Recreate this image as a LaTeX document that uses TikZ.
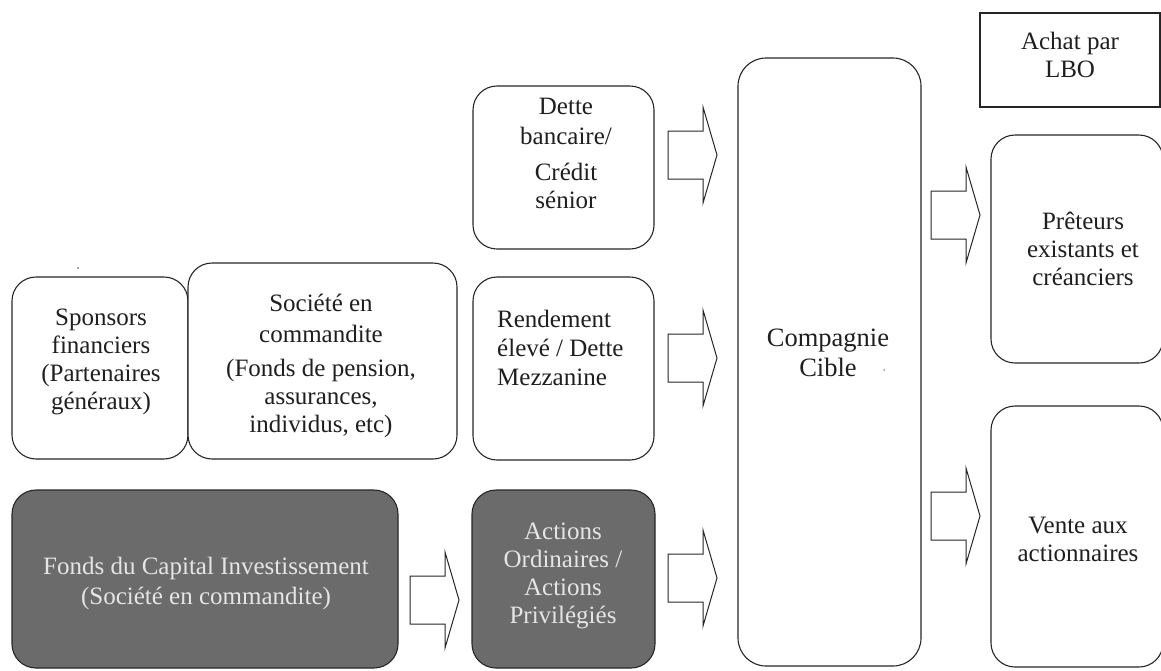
\documentclass[tikz,border=0pt]{standalone}
\usepackage{fontspec}
\setmainfont{Liberation Serif}
\begin{document}
\begin{tikzpicture}[x=1pt,y=-1pt,
  box/.style={draw=black!85, line width=1.1pt, rounded corners=24pt, fill=white, inner sep=0pt},
  darkbox/.style={box, fill=black!58},
  plainbox/.style={draw=black!85, line width=1.1pt, fill=white, inner sep=0pt},
  txt/.style={align=center, inner sep=0pt, font=\fontsize{25}{28}\selectfont, text=black!88},
  lighttxt/.style={txt, text=black!10},
  arrowline/.style={draw=black!85, line width=1pt, fill=white, line join=miter},
  blockarrow/.pic={\draw[arrowline] (0,-24) -- (35,-24) -- (35,-48) -- (49,0) -- (35,48) -- (35,24) -- (0,24) -- cycle;},
  speck/.style={circle, fill=black!70, inner sep=0pt, minimum size=1.8pt}
]
\useasboundingbox (0,0) rectangle (1161,670);

% frames
\node[plainbox, minimum width=180pt, minimum height=94pt] (lbo) at (1070,60) {};
\node[box, minimum width=181pt, minimum height=163pt] (dette) at (563.5,167.5) {};
\node[box, minimum width=176pt, minimum height=182pt] (sponsors) at (100,368) {};
\node[box, minimum width=269pt, minimum height=196pt] (societe) at (322.5,361) {};
\node[box, minimum width=181pt, minimum height=183pt] (rendement) at (563.5,368.5) {};
\node[darkbox, minimum width=386pt, minimum height=178pt] (fonds) at (205,579) {};
\node[darkbox, minimum width=183pt, minimum height=178pt] (actions) at (563.5,579) {};
\node[box, rounded corners=28pt, minimum width=183pt, minimum height=608pt] (cible) at (829.5,362) {};
\node[box, minimum width=172pt, minimum height=228pt] (preteurs) at (1077,249) {};
\node[box, minimum width=172pt, minimum height=261pt] (vente) at (1077,536.5) {};

% texts
\node[txt] (lbo-t) at (1070,55) {Achat par\\LBO};
\node[txt] (dette-t) at (566,153) {Dette\\[2pt]bancaire/\\[8pt]Crédit\\sénior};
\node[txt] (sponsors-t) at (101,362) {Sponsors\\financiers\\(Partenaires\\généraux)};
\node[txt] (societe-t) at (321,366) {Société en\\[3pt]commandite\\[6pt](Fonds de pension,\\assurances,\\individus, etc)};
\node[txt, align=left, anchor=west] (rendement-t) at (497,348) {Rendement\\[1pt]élevé / Dette\\[1pt]Mezzanine};
\node[lighttxt] (fonds-t) at (206,583) {Fonds du Capital Investissement\\[2pt](Société en commandite)};
\node[lighttxt] (actions-t) at (563,576) {Actions\\Ordinaires /\\Actions\\Privilégiés};
\node[txt, font=\fontsize{26.5}{30}\selectfont] (cible-t) at (828,353) {Compagnie\\Cible};
\node[txt] (preteurs-t) at (1083,249) {Prêteurs\\existants et\\créanciers};
\node[txt] (vente-t) at (1078,539) {Vente aux\\actionnaires};

% block arrows
\pic (a1) at (668,155) {blockarrow};
\pic (a2) at (668,358) {blockarrow};
\pic (a3) at (668,578) {blockarrow};
\pic (a4) at (410,600) {blockarrow};
\pic (a5) at (931,215) {blockarrow};
\pic (a6) at (931,516) {blockarrow};

% small specks
\node[speck] (s1) at (78,268) {};
\node[speck, minimum size=1.5pt] (s2) at (884,370) {};
\end{tikzpicture}
\end{document}
